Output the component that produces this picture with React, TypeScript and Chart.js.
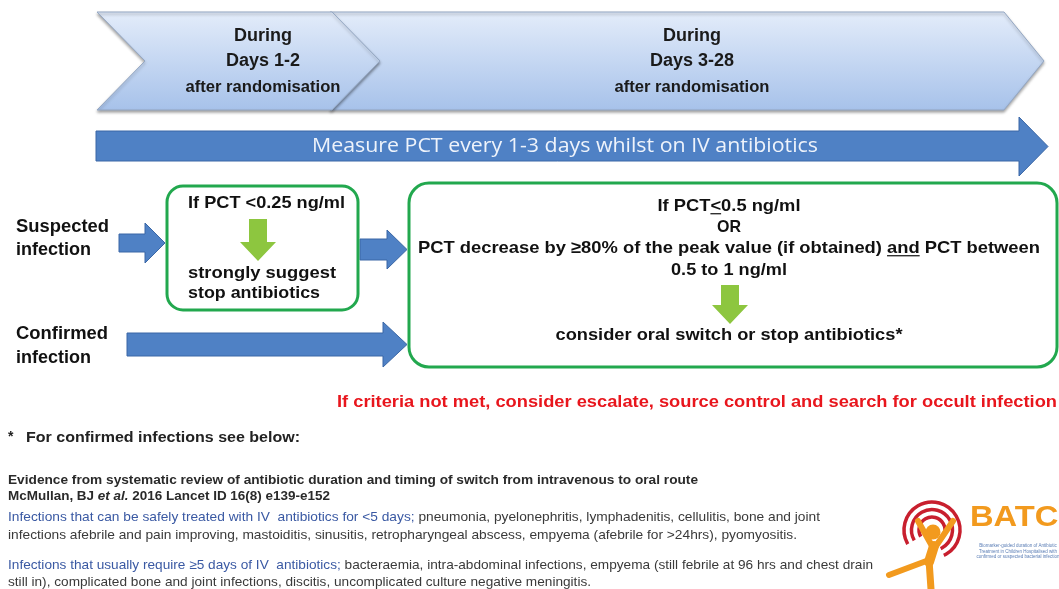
import React, { useEffect, useRef } from 'react';
import { Chart, registerables } from 'chart.js';

Chart.register(...registerables);

type Run = { t: string; b?: boolean; i?: boolean; u?: boolean; c?: string };

// ---- text content ----
const PHASE_1 = ['During', 'Days 1-2', 'after randomisation'];
const PHASE_2 = ['During', 'Days 3-28', 'after randomisation'];
const MEASURE_LABEL = 'Measure PCT every 1-3 days whilst on IV antibiotics';
const SUSPECTED_LABEL = ['Suspected', 'infection'];
const CONFIRMED_LABEL = ['Confirmed', 'infection'];
const EARLY_RULE = ['If PCT <0.25 ng/ml', 'strongly suggest', 'stop antibiotics'];
const LATE_RULE: Run[][] = [
  [{ t: 'If PCT' }, { t: '<', u: true }, { t: '0.5 ng/ml' }],
  [{ t: 'OR' }],
  [{ t: 'PCT decrease by \u226580% of the peak value (if obtained) ' }, { t: 'and', u: true }, { t: ' PCT between' }],
  [{ t: '0.5 to 1 ng/ml' }],
];
const LATE_ACTION = 'consider oral switch or stop antibiotics*';
const ESCALATE_NOTE = 'If criteria not met, consider escalate, source control and search for occult infection';
const FOOTNOTE = 'For confirmed infections see below:';
const EVIDENCE_TITLE = 'Evidence from systematic review of antibiotic duration and timing of switch from intravenous to oral route';
const CITATION: Run[] = [{ t: 'McMullan, BJ ' }, { t: 'et al.', i: true }, { t: ' 2016 Lancet ID 16(8) e139-e152' }];
const SHORT_LEAD = 'Infections that can be safely treated with IV  antibiotics for <5 days;';
const SHORT_LIST = [' pneumonia, pyelonephritis, lymphadenitis, cellulitis, bone and joint', 'infections afebrile and pain improving, mastoiditis, sinusitis, retropharyngeal abscess, empyema (afebrile for >24hrs), pyomyositis.'];
const LONG_LEAD = 'Infections that usually require \u22655 days of IV  antibiotics;';
const LONG_LIST = [' bacteraemia, intra-abdominal infections, empyema (still febrile at 96 hrs and chest drain', 'still in), complicated bone and joint infections, discitis, uncomplicated culture negative meningitis.'];
const LOGO_NAME = 'BATCH';
const LOGO_TAGLINE = ['Biomarker-guided duration of Antibiotic', 'Treatment in Children Hospitalised with', 'confirmed or suspected bacterial infection'];

const SANS = '"Liberation Sans", Arial, sans-serif';

const flowPlugin = {
  id: 'flow',
  afterDraw(chart: any) {
    const ctx: CanvasRenderingContext2D = chart.ctx;
    const xs = chart.scales.x;
    const ys = chart.scales.y;
    const X = (v: number) => xs.getPixelForValue(v);
    const Y = (v: number) => ys.getPixelForValue(v);
    const W = (x: number, w: number) => X(x + w) - X(x);

    const poly = (pts: number[][], fill: string | CanvasGradient, stroke?: string, lw = 1) => {
      ctx.beginPath();
      pts.forEach((p, k) => (k === 0 ? ctx.moveTo(X(p[0]), Y(p[1])) : ctx.lineTo(X(p[0]), Y(p[1]))));
      ctx.closePath();
      ctx.fillStyle = fill;
      ctx.fill();
      if (stroke) {
        ctx.strokeStyle = stroke;
        ctx.lineWidth = lw;
        ctx.stroke();
      }
    };

    const text = (
      runs: Run[],
      x: number,
      y: number,
      o: { size: number; bold?: boolean; color?: string; align?: string; width?: number; sx?: number; family?: string }
    ) => {
      const fam = o.family ?? SANS;
      const fontOf = (r: Run) => `${r.i ? 'italic ' : ''}${(r.b ?? o.bold) ? 'bold ' : ''}${o.size}px ${fam}`;
      const ws: number[] = [];
      let total = 0;
      for (const r of runs) {
        ctx.font = fontOf(r);
        const w = ctx.measureText(r.t).width;
        ws.push(w);
        total += w;
      }
      const sx = o.width ? W(x, o.width) / total : o.sx ?? 1;
      const dw = total * sx;
      const px = X(x);
      const x0 = o.align === 'center' ? px - dw / 2 : o.align === 'right' ? px - dw : px;
      ctx.save();
      ctx.translate(x0, Y(y));
      ctx.scale(sx, 1);
      ctx.textBaseline = 'middle';
      ctx.textAlign = 'left';
      let cx = 0;
      runs.forEach((r, k) => {
        ctx.font = fontOf(r);
        ctx.fillStyle = r.c ?? o.color ?? '#111';
        ctx.fillText(r.t, cx, 0);
        if (r.u) ctx.fillRect(cx, o.size * 0.42, ws[k], Math.max(1.2, o.size * 0.07));
        cx += ws[k];
      });
      ctx.restore();
      return sx;
    };

    const rightArrow = (x0: number, xh: number, x1: number, bt: number, bb: number, ht: number, hb: number, fill: string, stroke: string) => {
      const tip = (ht + hb) / 2;
      poly([[x0, bt], [xh, bt], [xh, ht], [x1, tip], [xh, hb], [xh, bb], [x0, bb]], fill, stroke, 1);
    };
    const downArrow = (cx: number, bw: number, yt: number, yh: number, hw: number, ytip: number, fill: string) => {
      poly([[cx - bw / 2, yt], [cx + bw / 2, yt], [cx + bw / 2, yh], [cx + hw / 2, yh], [cx, ytip], [cx - hw / 2, yh], [cx - bw / 2, yh]], fill);
    };

    // background
    ctx.save();
    ctx.fillStyle = '#ffffff';
    ctx.fillRect(X(0), Y(0), W(0, 1059), Y(589) - Y(0));
    ctx.restore();

    // ---- chevrons ----
    const grad = ctx.createLinearGradient(0, Y(12), 0, Y(110));
    grad.addColorStop(0, '#e3ecfa');
    grad.addColorStop(1, '#a7c2ea');
    ctx.save();
    ctx.shadowColor = 'rgba(0,0,0,0.35)';
    ctx.shadowBlur = 3;
    ctx.shadowOffsetY = 2;
    poly([[330, 12], [1004, 12], [1044, 61], [1004, 110], [330, 110], [378, 61]], grad, '#94a7c3', 1);
    poly([[97, 12], [332, 12], [380, 61], [332, 110], [97, 110], [145, 61]], grad, '#94a7c3', 1);
    ctx.restore();
    const phaseCenters = [263, 692];
    [PHASE_1, PHASE_2].forEach((lines, k) => {
      const cx = phaseCenters[k];
      text([{ t: lines[0] }], cx, 36, { size: 18, bold: true, align: 'center', color: '#1a1a1a' });
      text([{ t: lines[1] }], cx, 61, { size: 18, bold: true, align: 'center', color: '#1a1a1a' });
      text([{ t: lines[2] }], cx, 88, { size: 16, bold: true, align: 'center', color: '#1a1a1a', width: 155 });
    });

    // ---- measure arrow ----
    rightArrow(96, 1019, 1048, 131, 161, 117, 176, '#4f81c5', '#3a67a6');
    text([{ t: MEASURE_LABEL }], 565, 146, { size: 20, align: 'center', color: '#eef3fb', width: 506, family: '"Open Sans", "Noto Sans", sans-serif' });

    // ---- entry labels ----
    text([{ t: SUSPECTED_LABEL[0] }], 16, 227, { size: 18, bold: true, width: 93 });
    text([{ t: SUSPECTED_LABEL[1] }], 16, 250, { size: 18, bold: true });
    text([{ t: CONFIRMED_LABEL[0] }], 16, 334, { size: 18, bold: true, width: 92 });
    text([{ t: CONFIRMED_LABEL[1] }], 16, 358, { size: 18, bold: true });

    // ---- blue connector arrows ----
    rightArrow(119, 145, 165, 234, 252, 223, 263, '#4f81c5', '#3a67a6');
    rightArrow(360, 387, 407, 239, 260, 230, 269, '#4f81c5', '#3a67a6');
    rightArrow(127, 383, 407, 333, 356, 322, 367, '#4f81c5', '#3a67a6');

    // ---- green boxes ----
    ctx.save();
    ctx.strokeStyle = '#22a84e';
    ctx.lineWidth = 3;
    ctx.beginPath();
    ctx.roundRect(X(167), Y(186), W(167, 191), Y(310) - Y(186), 16);
    ctx.stroke();
    ctx.beginPath();
    ctx.roundRect(X(409), Y(183), W(409, 648), Y(367) - Y(183), 20);
    ctx.stroke();
    ctx.restore();

    // early rule
    text([{ t: EARLY_RULE[0] }], 188, 203, { size: 17, bold: true, width: 157 });
    downArrow(258, 18, 219, 242, 36, 261, '#8dc63f');
    text([{ t: EARLY_RULE[1] }], 188, 273, { size: 17, bold: true, width: 148 });
    text([{ t: EARLY_RULE[2] }], 188, 293, { size: 17, bold: true, width: 132 });

    // late rule
    const lateY = [206, 227, 248, 270];
    const lateW = [143, 24, 622, 116];
    LATE_RULE.forEach((runs, k) => {
      text(runs, 729, lateY[k], { size: 17, bold: true, align: 'center', width: lateW[k] });
    });
    downArrow(730, 18, 285, 305, 36, 324, '#8dc63f');
    text([{ t: LATE_ACTION }], 729, 335, { size: 17, bold: true, align: 'center', width: 347 });

    // escalate note
    text([{ t: ESCALATE_NOTE }], 337, 402, { size: 17, bold: true, color: '#e8161d', width: 720 });

    // footnote
    text([{ t: '*' }], 8, 437, { size: 14, bold: true, color: '#222' });
    text([{ t: FOOTNOTE }], 26, 438, { size: 15, bold: true, color: '#222', width: 274 });

    // evidence block
    text([{ t: EVIDENCE_TITLE }], 8, 480, { size: 13, bold: true, color: '#2a2a2a', width: 690 });
    text(CITATION, 8, 496, { size: 13, bold: true, color: '#2a2a2a', width: 322 });
    const blue = '#3a59a3';
    const grey = '#3a3a3a';
    const sx = text([{ t: SHORT_LEAD, c: blue }, { t: SHORT_LIST[0], c: grey }], 8, 517, { size: 13, width: 812 });
    text([{ t: SHORT_LIST[1], c: grey }], 8, 535, { size: 13, sx });
    const sx2 = text([{ t: LONG_LEAD, c: blue }, { t: LONG_LIST[0], c: grey }], 8, 565, { size: 13, width: 865 });
    text([{ t: LONG_LIST[1], c: grey }], 8, 582, { size: 13, sx: sx2 });

    // ---- logo ----
    const lcx = 932;
    const lcy = 530;
    ctx.save();
    ctx.strokeStyle = '#c81f2e';
    ctx.lineWidth = 3.5;
    [13, 20.5, 28].forEach((r) => {
      ctx.beginPath();
      ctx.arc(X(lcx), Y(lcy), r, (150 * Math.PI) / 180, (425 * Math.PI) / 180);
      ctx.stroke();
    });
    ctx.strokeStyle = '#f29a1e';
    ctx.fillStyle = '#f29a1e';
    ctx.lineCap = 'round';
    ctx.lineJoin = 'round';
    const seg = (a: number[], b: number[], lw: number) => {
      ctx.lineWidth = lw;
      ctx.beginPath();
      ctx.moveTo(X(a[0]), Y(a[1]));
      ctx.lineTo(X(b[0]), Y(b[1]));
      ctx.stroke();
    };
    seg([932, 546], [918, 521], 6);
    seg([936, 546], [953, 521], 6);
    seg([934, 546], [929, 562], 10);
    seg([929, 560], [889, 575], 6);
    seg([929, 560], [931, 589], 7);
    ctx.beginPath();
    ctx.arc(X(lcx + 1), Y(lcy + 2), 7.5, 0, Math.PI * 2);
    ctx.fill();
    ctx.restore();
    text([{ t: LOGO_NAME }], 970, 518, { size: 29, bold: true, color: '#f29a1e', width: 112 });
    LOGO_TAGLINE.forEach((line, k) => {
      text([{ t: line }], 1018, 546 + k * 5.5, { size: 4.5, color: '#5a7db5', align: 'center' });
    });
  },
};

export default function App() {
  const ref = useRef<HTMLCanvasElement | null>(null);
  useEffect(() => {
    document.body.style.margin = '0';
    const canvas = ref.current;
    if (!canvas) return;
    const chart = new Chart(canvas, {
      type: 'scatter',
      data: { datasets: [{ data: [], pointRadius: 0 }] },
      options: {
        animation: false,
        responsive: false,
        maintainAspectRatio: false,
        layout: { padding: 0 },
        plugins: { legend: { display: false }, tooltip: { enabled: false }, title: { display: false } },
        scales: {
          x: { type: 'linear', min: 0, max: 1059, display: false },
          y: { type: 'linear', min: 0, max: 589, reverse: true, display: false },
        },
      },
      plugins: [flowPlugin],
    } as any);
    return () => chart.destroy();
  }, []);
  return <canvas ref={ref} width={1059} height={589} style={{ display: 'block', width: 1059, height: 589 }} />;
}
